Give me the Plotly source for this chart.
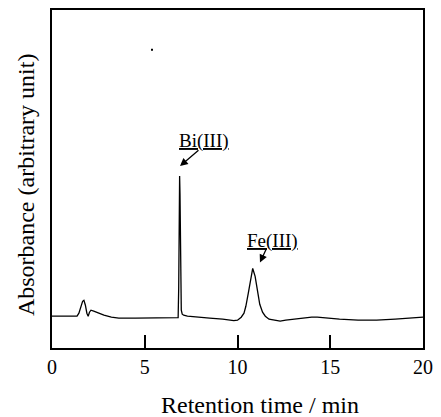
import plotly.graph_objects as go

# Retention time (min) and absorbance (arbitrary unit)
time_min = [0.0, 1.35, 1.45, 1.55, 1.65, 1.72, 1.80, 1.88, 1.95, 2.02, 2.10, 2.25, 2.5, 2.8, 3.2, 3.6,
            4.5, 5.5, 6.5, 6.80, 6.83, 6.85, 6.87, 6.88, 6.90, 6.92, 6.94, 6.97, 7.02, 7.1, 7.3, 7.8,
            8.5, 9.2, 9.5, 9.8, 10.0, 10.2, 10.35, 10.45, 10.58, 10.7, 10.82, 10.95, 11.09, 11.2,
            11.35, 11.5, 11.7, 12.0, 12.3, 12.6, 13.0, 13.5, 14.0, 14.3, 14.8, 15.5, 16.5, 17.5,
            18.5, 19.3, 20.0]
absorbance = [2, 2, 5, 11, 17, 18, 13, 5, 2, 6, 8, 7, 5, 3, 1, 0,
              0, 0, 0, 0.5, 30, 100, 138, 143, 125, 70, 25, 8, 4, 3, 2, 1,
              0, -1, -2, -2.5, -2, 1, 5, 12, 25, 40, 50, 42, 25, 14,
              6, 2, -1, -2, -3, -2, -1, 0, 1, 1, 0, -1, -2, -2,
              -1, 0, 1]

# small speck in the original figure
speck_x = [5.39]
speck_y = [270]

x_ticks = [0, 5, 10, 15, 20]
peak_labels = ["Bi(III)", "Fe(III)"]
label_x = [8.22, 11.91]
label_y = [178.5, 78]
arrow_tip_x = [6.90, 11.21]
arrow_tip_y = [153, 56]
arrow_dx = [20, 7]
arrow_dy = [-17, -15]

serif = "Liberation Serif, Times New Roman, serif"

fig = go.Figure()
fig.add_trace(go.Scatter(x=time_min, y=absorbance, mode="lines",
                         line=dict(color="black", width=1.3), showlegend=False))
fig.add_trace(go.Scatter(x=speck_x, y=speck_y, mode="markers",
                         marker=dict(color="black", size=2, symbol="square"), showlegend=False))

annotations = []
for t, lx, ly, tx, ty, dx, dy in zip(peak_labels, label_x, label_y, arrow_tip_x, arrow_tip_y, arrow_dx, arrow_dy):
    annotations.append(dict(x=lx, y=ly, xref="x", yref="y", text=t, showarrow=False,
                            font=dict(family=serif, size=19, color="black", lineposition="under")))
    annotations.append(dict(x=tx, y=ty, xref="x", yref="y", text="", showarrow=True,
                            ax=dx, ay=dy, arrowhead=2, arrowsize=1.2, arrowwidth=1.3,
                            arrowcolor="black"))

annotations.append(dict(x=0.56, y=-0.168, xref="paper", yref="paper", text="Retention time / min",
                        showarrow=False, font=dict(family=serif, size=24, color="black"),
                        xanchor="center", yanchor="middle"))
annotations.append(dict(x=-0.070, y=0.482, xref="paper", yref="paper", text="Absorbance (arbitrary unit)",
                        showarrow=False, textangle=-90, font=dict(family=serif, size=24, color="black"),
                        xanchor="center", yanchor="middle"))

fig.update_layout(
    width=441, height=417,
    margin=dict(l=52, r=18, t=8, b=69),
    paper_bgcolor="white", plot_bgcolor="white",
    font=dict(family=serif, color="black"),
    annotations=annotations,
    xaxis=dict(range=[0, 20], tickvals=x_ticks, ticks="inside", ticklen=13, tickwidth=1.6,
               tickcolor="black", showline=True, linecolor="black", linewidth=2, mirror=True,
               showgrid=False, zeroline=False, tickfont=dict(family=serif, size=20, color="black")),
    yaxis=dict(range=[-30, 310], showticklabels=False, ticks="", showline=True, linecolor="black",
               linewidth=2, mirror=True, showgrid=False, zeroline=False),
)

fig.write_html("out.html", config={"displayModeBar": False})

# remove the browser's default page margin so the figure fills the window exactly
with open("out.html", "r", encoding="utf-8") as f:
    html = f.read()
html = html.replace("<head>", "<head><style>html,body{margin:0;padding:0;overflow:hidden;}</style>", 1)
with open("out.html", "w", encoding="utf-8") as f:
    f.write(html)
